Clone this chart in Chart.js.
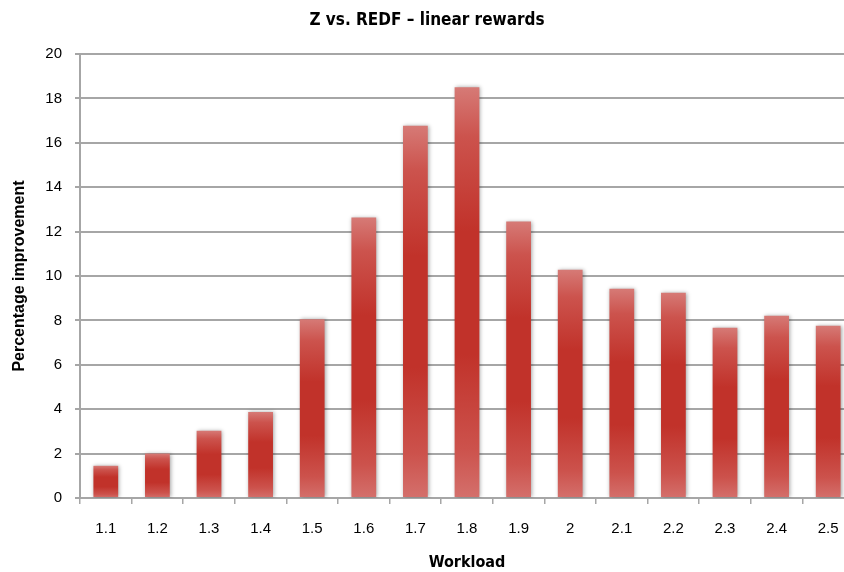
<!DOCTYPE html>
<html>
<head>
<meta charset="utf-8">
<script src="https://cdn.jsdelivr.net/npm/chart.js@4.4.1/dist/chart.umd.min.js"></script>
<style>
  html, body { margin: 0; padding: 0; background: #fff; overflow: hidden; }
  #wrap { width: 858px; height: 572px; }
</style>
</head>
<body>
<div id="wrap"><canvas id="chart" width="858" height="572"></canvas></div>
<script>
const workloads = ['1.1', '1.2', '1.3', '1.4', '1.5', '1.6', '1.7', '1.8', '1.9', '2', '2.1', '2.2', '2.3', '2.4', '2.5'];
const improvement = [1.45, 2.0, 3.03, 3.87, 8.05, 12.63, 16.77, 18.5, 12.45, 10.28, 9.43, 9.25, 7.67, 8.21, 7.76];
const yMin = 0;
const yMax = 20;
const yStep = 2;

const FONT = "'Liberation Sans', Arial, sans-serif";
const NARROW = "'Liberation Sans Narrow', 'DejaVu Sans Condensed', 'Liberation Sans', sans-serif";
const GRID = '#a6a6a6';

// each bar gets its own light-dark-light vertical gradient
function barFill(context) {
    const chart = context.chart;
    if (!chart.chartArea) return '#c2342c';
    const y = chart.scales.y;
    const v = context.raw;
    const top = y.getPixelForValue(v);
    const bottom = y.getPixelForValue(0);
    const g = chart.ctx.createLinearGradient(0, top, 0, bottom);
    g.addColorStop(0, '#d67a76');
    g.addColorStop(0.12, '#cc534d');
    g.addColorStop(0.35, '#c1322a');
    g.addColorStop(0.65, '#c1322a');
    g.addColorStop(0.88, '#cc524c');
    g.addColorStop(1, '#d4706c');
    return g;
}

const barShadow = {
    id: 'barShadow',
    beforeDatasetsDraw(chart) {
        const ctx = chart.ctx;
        ctx.save();
        ctx.shadowColor = 'rgba(0,0,0,0.35)';
        ctx.shadowBlur = 4;
        ctx.shadowOffsetX = 1;
        ctx.shadowOffsetY = 0;
    },
    afterDatasetsDraw(chart) {
        chart.ctx.restore();
    }
};

new Chart(document.getElementById('chart').getContext('2d'), {
    type: 'bar',
    data: {
        labels: workloads,
        datasets: [{
            label: 'Percentage improvement',
            data: improvement,
            backgroundColor: barFill,
            borderWidth: 0,
            barPercentage: 0.48,
            categoryPercentage: 1
        }]
    },
    options: {
        responsive: false,
        animation: false,
        devicePixelRatio: 1,
        layout: { padding: { left: 0, right: 4, top: 0, bottom: 0 } },
        plugins: {
            legend: { display: false },
            tooltip: { enabled: false },
            title: {
                display: true,
                text: 'Z vs. REDF \u2013 linear rewards',
                color: '#000',
                font: { family: NARROW, size: 17, weight: 'bold' },
                padding: { top: 10, bottom: 23.6 }
            }
        },
        scales: {
            x: {
                offset: true,
                grid: {
                    offset: true,
                    drawOnChartArea: false,
                    drawTicks: true,
                    tickLength: 6,
                    color: GRID,
                    lineWidth: 1.5
                },
                border: { color: GRID, width: 2 },
                ticks: {
                    color: '#000',
                    font: { family: FONT, size: 15 },
                    padding: 16,
                    maxRotation: 0,
                    autoSkip: false
                },
                title: {
                    display: true,
                    text: 'Workload',
                    color: '#000',
                    font: { family: NARROW, size: 16, weight: 'bold' },
                    padding: { top: 14, bottom: 0 }
                },
                afterFit(scale) { scale.height = 572 - 498; }
            },
            y: {
                min: yMin,
                max: yMax,
                grid: {
                    color: GRID,
                    lineWidth: 2,
                    tickLength: 5
                },
                border: { color: GRID, width: 2 },
                ticks: {
                    stepSize: yStep,
                    color: '#000',
                    font: { family: FONT, size: 15 },
                    padding: 13
                },
                title: {
                    display: true,
                    text: 'Percentage improvement',
                    color: '#000',
                    font: { family: FONT, size: 16, weight: 'bold' },
                    padding: { top: 10, bottom: 4 }
                },
                afterFit(scale) { scale.width = 80; }
            }
        }
    },
    plugins: [barShadow]
});
</script>
</body>
</html>
